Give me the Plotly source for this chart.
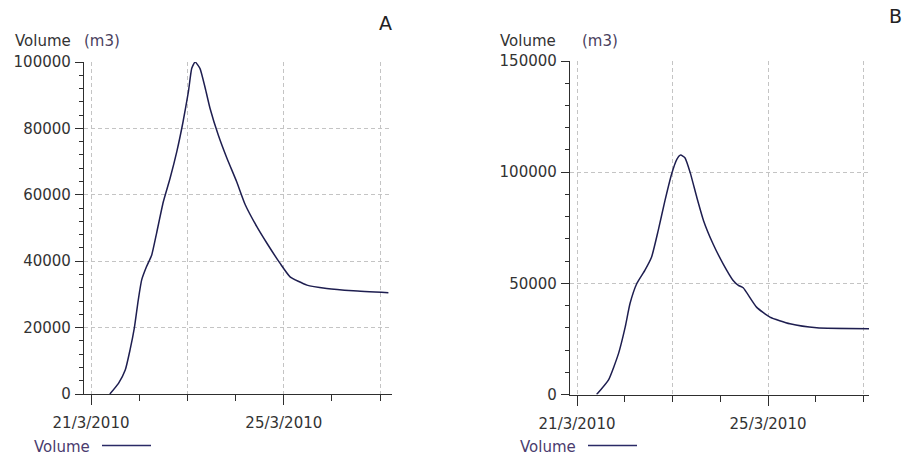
import plotly.graph_objects as go

# ---- data ----
time_a = ["2010-03-21 09:22", "2010-03-21 13:41", "2010-03-21 17:02", "2010-03-21 19:26",
          "2010-03-21 21:36", "2010-03-21 23:31", "2010-03-22 01:12", "2010-03-22 03:36",
          "2010-03-22 06:14", "2010-03-22 08:38", "2010-03-22 12:00", "2010-03-22 15:22",
          "2010-03-22 18:43", "2010-03-22 21:50", "2010-03-23 00:29", "2010-03-23 02:10",
          "2010-03-23 03:50", "2010-03-23 06:14", "2010-03-23 08:53", "2010-03-23 11:17",
          "2010-03-23 15:22", "2010-03-23 19:41", "2010-03-24 00:29", "2010-03-24 04:48",
          "2010-03-24 10:34", "2010-03-24 15:36", "2010-03-24 22:05", "2010-03-25 03:07",
          "2010-03-25 11:31", "2010-03-25 21:22", "2010-03-26 10:34", "2010-03-27 04:05"]
volume_a = [0, 3200, 7200, 13300,
            20000, 28300, 34300, 38300,
            41900, 48400, 57900, 65000,
            73000, 82000, 91000, 98100,
            100000, 98100, 92100, 86000,
            78000, 71000, 64000, 57000,
            50400, 45400, 39400, 35300,
            32800, 31800, 31100, 30500]

time_b = ["2010-03-21 09:50", "2010-03-21 15:50", "2010-03-21 20:53", "2010-03-22 00:14",
          "2010-03-22 02:38", "2010-03-22 06:00", "2010-03-22 10:05", "2010-03-22 13:26",
          "2010-03-22 16:48", "2010-03-22 20:10", "2010-03-22 23:31", "2010-03-23 02:10",
          "2010-03-23 04:05", "2010-03-23 06:14", "2010-03-23 08:53", "2010-03-23 12:14",
          "2010-03-23 15:36", "2010-03-23 20:24", "2010-03-24 01:26", "2010-03-24 06:29",
          "2010-03-24 09:07", "2010-03-24 11:31", "2010-03-24 18:14", "2010-03-25 00:58",
          "2010-03-25 11:02", "2010-03-26 00:29", "2010-03-27 03:22"]
volume_b = [0, 6600, 18500, 30400,
            40900, 49800, 55800, 61700,
            73700, 87100, 99100, 105800,
            107700, 106500, 99800, 88600,
            78200, 67700, 58800, 51300,
            49100, 48000, 39300, 34800,
            31800, 30000, 29600]

major_x = ["2010-03-21", "2010-03-23", "2010-03-25", "2010-03-27"]
major_x_text = ["21/3/2010", "", "25/3/2010", ""]
minor_x = ["2010-03-21", "2010-03-22", "2010-03-23", "2010-03-24",
           "2010-03-25", "2010-03-26", "2010-03-27"]

W, H = 902, 457
FONT = "DejaVu Sans"
TXT = "#333333"
LINE = "#1e1e50"
GRID = "#c4c4c4"
AX = "#2e2e2e"


def px(x):
    return x / W


def py(y):
    return 1 - y / H


fig = go.Figure()
fig.add_trace(go.Scatter(x=time_a, y=volume_a, mode="lines", xaxis="x", yaxis="y",
                         line=dict(color=LINE, width=1.5, shape="spline", smoothing=0.5),
                         name="Volume", showlegend=False))
fig.add_trace(go.Scatter(x=time_b, y=volume_b, mode="lines", xaxis="x2", yaxis="y2",
                         line=dict(color=LINE, width=1.5, shape="spline", smoothing=0.5),
                         name="Volume", showlegend=False))


def xaxis(dom, rng, anchor):
    return dict(type="date", domain=dom, range=rng, anchor=anchor, automargin=False,
                tickmode="array", tickvals=major_x, ticktext=major_x_text,
                ticks="outside", ticklen=10, tickwidth=1.3, tickcolor=AX,
                showline=True, linecolor=AX, linewidth=1.3, zeroline=False,
                showgrid=True, gridcolor=GRID, gridwidth=1, griddash="4px,3px",
                tickfont=dict(family=FONT, size=15, color=TXT), tickangle=0,
                ticklabelstandoff=5,
                minor=dict(tickmode="array", tickvals=minor_x, ticks="outside",
                           ticklen=6, tickwidth=1.3, tickcolor=AX, showgrid=False))


def yaxis(dom, top, dt, mdt, anchor):
    return dict(domain=dom, range=[0, top], anchor=anchor, automargin=False,
                tickmode="linear", tick0=0, dtick=dt, tickformat="d",
                exponentformat="none",
                ticks="outside", ticklen=8, tickwidth=1.3, tickcolor=AX,
                showline=True, linecolor=AX, linewidth=1.3, zeroline=False,
                showgrid=True, gridcolor=GRID, gridwidth=1, griddash="4px,3px",
                tickfont=dict(family=FONT, size=15, color=TXT), ticklabelstandoff=1,
                minor=dict(tickmode="linear", tick0=0, dtick=mdt, ticks="outside",
                           ticklen=4, tickwidth=1.3, tickcolor=AX, showgrid=False))


fig.update_layout(
    width=W, height=H, autosize=False,
    margin=dict(l=0, r=0, t=0, b=0, pad=0, autoexpand=False),
    paper_bgcolor="white", plot_bgcolor="white",
    showlegend=False,
    xaxis=xaxis([px(84), px(392)], ["2010-03-20 20:30", "2010-03-27 05:53"], "y"),
    yaxis=yaxis([py(394), py(62)], 100000, 20000, 4000, "x"),
    xaxis2=xaxis([px(570), px(869)], ["2010-03-20 20:28", "2010-03-27 02:46"], "y2"),
    yaxis2=yaxis([py(394.5), py(61)], 150000, 50000, 10000, "x2"),
)

anns = [
    ("Volume", 12.5, 41, TXT, 15), ("(m3)", 82, 41, "#4a3f5e", 15),
    ("Volume", 497.5, 41, TXT, 15), ("(m3)", 580, 41, "#4a3f5e", 15),
    ("A", 377, 23, "#222", 19), ("B", 886.5, 16, "#222", 19),
    ("Volume", 32, 447, "#4a3c6e", 15), ("Volume", 518, 447, "#4a3c6e", 15),
]
for t, x, y, c, s in anns:
    fig.add_annotation(text=t, x=px(x), y=py(y), xref="paper", yref="paper",
                       xanchor="left", yanchor="middle", showarrow=False,
                       font=dict(family=FONT, size=s, color=c))

for x0, x1 in [(102, 151), (588, 637)]:
    fig.add_shape(type="line", xref="paper", yref="paper",
                  x0=px(x0), x1=px(x1), y0=py(445.5), y1=py(445.5),
                  line=dict(color="#2a2a66", width=1.4))

fig.write_html("out.html", config={"displayModeBar": False},
               post_script="document.body.style.margin='0';")
